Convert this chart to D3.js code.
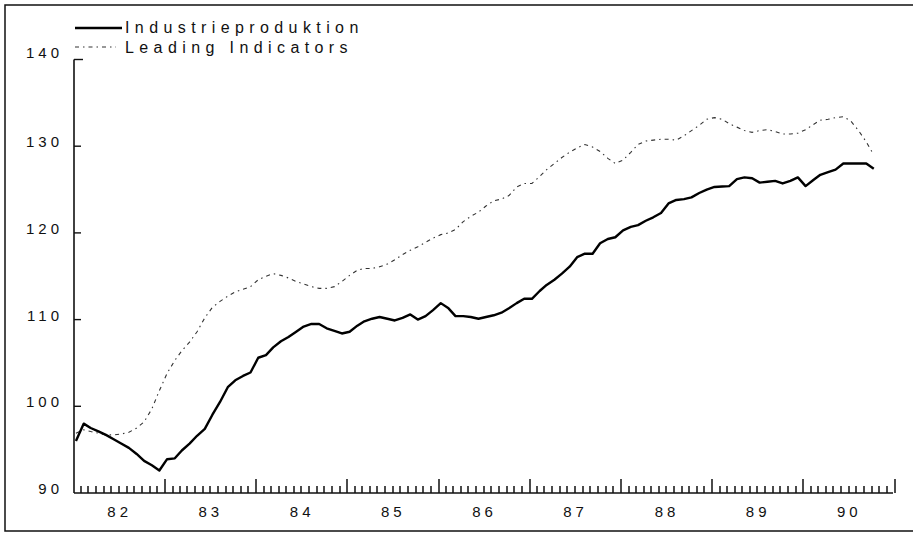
<!DOCTYPE html>
<html>
<head>
<meta charset="utf-8">
<script src="https://cdn.jsdelivr.net/npm/d3@7"></script>
<style>
  body { margin: 0; background: #fff; }
  svg { display: block; }
</style>
</head>
<body>
<svg id="chart"></svg>
<script>
// Monthly values, Jan 1982 .. Oct 1990
const startYear = 1982;
const industrie = [
  96.0, 98.0, 97.5, 97.1, 96.7, 96.2, 95.7, 95.2, 94.5, 93.7, 93.2, 92.6,
  93.9, 94.0, 94.9, 95.7, 96.6, 97.4, 99.0, 100.5, 102.2, 103.0, 103.5, 103.9,
  105.6, 105.9, 106.8, 107.5, 108.0, 108.6, 109.2, 109.5, 109.5, 109.0, 108.7, 108.4,
  108.6, 109.3, 109.8, 110.1, 110.3, 110.1, 109.9, 110.2, 110.6, 110.0, 110.4, 111.1,
  111.9, 111.3, 110.4, 110.4, 110.3, 110.1, 110.3, 110.5, 110.8, 111.3, 111.9, 112.4,
  112.4, 113.3, 114.0, 114.6, 115.3, 116.1, 117.2, 117.6, 117.6, 118.8, 119.3, 119.5,
  120.3, 120.7, 120.9, 121.4, 121.8, 122.3, 123.4, 123.8, 123.9, 124.1, 124.6, 125.0,
  125.3, 125.35, 125.4, 126.2, 126.4, 126.3, 125.8, 125.9, 126.0, 125.7, 126.0, 126.4,
  125.4, 126.1, 126.7, 127.0, 127.3, 128.0, 128.0, 128.0, 128.0, 127.4
];
const leading = [
  96.9, 97.3, 97.1, 96.9, 96.7, 96.7, 96.8, 97.0, 97.5, 98.2, 99.7, 101.8,
  103.8, 105.3, 106.4, 107.4, 108.6, 110.2, 111.4, 112.1, 112.7, 113.2, 113.5, 113.8,
  114.6, 115.0, 115.3, 115.1, 114.8, 114.4, 114.1, 113.8, 113.6, 113.6, 113.8, 114.4,
  115.1, 115.7, 115.9, 115.9, 116.1, 116.4, 116.9, 117.5, 118.0, 118.4, 118.9, 119.4,
  119.8, 120.0, 120.4, 121.3, 121.9, 122.4, 123.1, 123.7, 123.9, 124.3, 125.3, 125.7,
  125.7, 126.5, 127.3, 128.0, 128.7, 129.3, 129.8, 130.2, 129.9, 129.4, 128.6, 128.0,
  128.4, 129.3, 130.2, 130.6, 130.7, 130.8, 130.8, 130.7, 131.2, 131.8, 132.4, 133.1,
  133.3, 133.1, 132.6, 132.2, 131.8, 131.6, 131.8, 131.9, 131.7, 131.4, 131.4, 131.5,
  131.9, 132.5, 133.0, 133.1, 133.3, 133.4, 132.9, 131.8, 130.5, 129.0
];
const yTicks = [90, 100, 110, 120, 130, 140];
const yearLabels = ["82", "83", "84", "85", "86", "87", "88", "89", "90"];
const legendLabels = ["Industrieproduktion", "Leading Indicators"];

const width = 913;
const height = 533;
const axisX = 74;
const axisY = 493;

const svg = d3.select("#chart")
  .attr("width", width)
  .attr("height", height);

// scales
const x = d3.scaleTime()
  .domain([new Date(startYear, 0, 1), new Date(1991, 0, 1)])
  .range([72.2, 893]);
const y = d3.scaleLinear()
  .domain([90, 140])
  .range([axisY, 59.5]);

const monthDate = i => new Date(startYear, i, 16);

// outer frame (scan border)
svg.append("path")
  .attr("d", `M${width},5 H5 V531 H${width}`)
  .attr("fill", "none")
  .attr("stroke", "#111")
  .attr("stroke-width", 1.5);

// x axis: monthly minor ticks, taller year ticks
const months = d3.timeMonth.range(new Date(startYear, 0, 15), new Date(1991, 0, 2));
svg.append("g")
  .selectAll("rect")
  .data(months)
  .join("rect")
  .attr("x", d => Math.round(x(d) + 1.5) - 0.75)
  .attr("width", 1.5)
  .attr("y", d => d.getMonth() === 0 ? axisY - 14 : axisY - 7)
  .attr("height", d => d.getMonth() === 0 ? 14 : 7)
  .attr("fill", "#111");

svg.append("line")
  .attr("x1", axisX).attr("x2", x.range()[1])
  .attr("y1", axisY).attr("y2", axisY)
  .attr("stroke", "#111")
  .attr("stroke-width", 1.6);

// year labels centred in each year
svg.append("g")
  .selectAll("text")
  .data(yearLabels)
  .join("text")
  .attr("x", (d, i) => x(new Date(startYear + i, 6, 2)) + 2)
  .attr("y", 517)
  .attr("text-anchor", "middle")
  .style("font-family", "Arial, 'Liberation Sans', sans-serif")
  .style("font-size", "15px")
  .style("letter-spacing", "4px")
  .style("fill", "#111")
  .text(d => d);

// y axis
svg.append("line")
  .attr("x1", axisX).attr("x2", axisX)
  .attr("y1", y(140)).attr("y2", axisY)
  .attr("stroke", "#111")
  .attr("stroke-width", 1.6);

svg.append("g")
  .selectAll("line")
  .data(yTicks.slice(1))
  .join("line")
  .attr("x1", axisX)
  .attr("x2", d => d === 140 ? axisX + 9 : axisX + 7)
  .attr("y1", d => y(d))
  .attr("y2", d => y(d))
  .attr("stroke", "#111")
  .attr("stroke-width", 1.4);

svg.append("g")
  .selectAll("text")
  .data(yTicks)
  .join("text")
  .attr("x", 63)
  .attr("y", d => d === 140 ? y(d) - 2 : y(d) + 1)
  .attr("text-anchor", "end")
  .style("font-family", "Arial, 'Liberation Sans', sans-serif")
  .style("font-size", "15px")
  .style("letter-spacing", "4px")
  .style("fill", "#111")
  .text(d => d);

// lines
const line = d3.line()
  .x((d, i) => x(monthDate(i)))
  .y(d => y(d));

svg.append("path")
  .datum(leading)
  .attr("d", line)
  .attr("fill", "none")
  .attr("stroke", "#333")
  .attr("stroke-width", 1.1)
  .attr("stroke-dasharray", "4,4,1.5,4");

svg.append("path")
  .datum(industrie)
  .attr("d", line)
  .attr("fill", "none")
  .attr("stroke", "#000")
  .attr("stroke-width", 2.4)
  .attr("stroke-linejoin", "round");

// legend
const legend = svg.append("g");
legend.append("line")
  .attr("x1", 75).attr("x2", 122)
  .attr("y1", 28).attr("y2", 28)
  .attr("stroke", "#000")
  .attr("stroke-width", 2.4);
legend.append("line")
  .attr("x1", 75).attr("x2", 116)
  .attr("y1", 47).attr("y2", 47)
  .attr("stroke", "#333")
  .attr("stroke-width", 1.1)
  .attr("stroke-dasharray", "4,4,1.5,4");

legend.selectAll("text")
  .data(legendLabels)
  .join("text")
  .attr("x", 125)
  .attr("y", (d, i) => i === 0 ? 33 : 53)
  .style("font-family", "Arial, 'Liberation Sans', sans-serif")
  .style("font-size", "16px")
  .style("letter-spacing", "5.4px")
  .style("fill", "#111")
  .text(d => d);
</script>
</body>
</html>
